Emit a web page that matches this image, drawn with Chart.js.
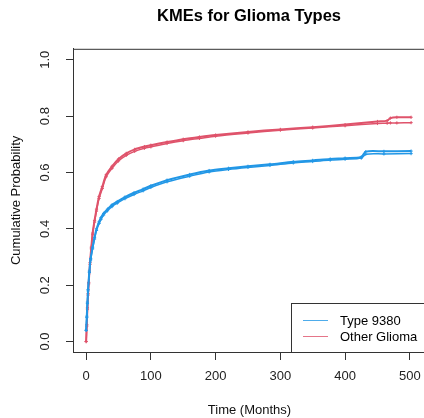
<!DOCTYPE html>
<html>
<head>
<meta charset="utf-8">
<script src="https://cdn.jsdelivr.net/npm/chart.js@4.4.1/dist/chart.umd.min.js"></script>
<style>
  html, body { margin: 0; padding: 0; background: #fff; overflow: hidden; }
  #wrap { width: 498px; height: 418px; }
</style>
</head>
<body>
<div id="wrap"><canvas id="kmChart" width="498" height="418"></canvas></div>
<script>
// tick labels
var xTicks = [0, 100, 200, 300, 400, 500];
var yTicks = [0, 0.2, 0.4, 0.6, 0.8, 1.0];

// series names
var seriesNames = ['Type 9380', 'Other Glioma'];

// Type 9380 (blue) - two estimates
var tBlue      = [0, 1, 2, 3, 5, 7, 10, 13, 16, 20, 23, 27, 33, 40, 48, 60, 74, 88, 100, 125, 160, 190, 220, 250, 284, 320, 350, 377, 400, 425, 432, 460, 502];
var blueMain   = [0.04, 0.09, 0.14, 0.185, 0.25, 0.295, 0.335, 0.37, 0.40, 0.425, 0.44, 0.455, 0.47, 0.485, 0.497, 0.513, 0.528, 0.541, 0.553, 0.573, 0.593, 0.607, 0.615, 0.622, 0.629, 0.638, 0.643, 0.648, 0.651, 0.655, 0.674, 0.675, 0.676];
var blueSecond = [0.04, 0.085, 0.135, 0.18, 0.245, 0.29, 0.329, 0.364, 0.394, 0.419, 0.434, 0.449, 0.464, 0.479, 0.491, 0.507, 0.522, 0.535, 0.547, 0.567, 0.587, 0.602, 0.611, 0.618, 0.625, 0.634, 0.639, 0.644, 0.647, 0.651, 0.665, 0.666, 0.667];

// Other Glioma (red) - two estimates
var tRed      = [0, 1, 2, 3, 4, 6, 8, 10, 13, 16, 20, 25, 31, 40, 50, 62, 75, 90, 100, 125, 150, 175, 200, 250, 300, 350, 400, 450, 465, 470, 480, 502];
var redMain   = [0, 0.06, 0.12, 0.17, 0.21, 0.28, 0.335, 0.385, 0.43, 0.47, 0.515, 0.55, 0.592, 0.622, 0.648, 0.668, 0.682, 0.692, 0.697, 0.708, 0.718, 0.726, 0.733, 0.744, 0.753, 0.761, 0.770, 0.781, 0.784, 0.793, 0.796, 0.796];
var redSecond = [0, 0.055, 0.115, 0.165, 0.205, 0.274, 0.329, 0.379, 0.424, 0.463, 0.508, 0.543, 0.585, 0.615, 0.641, 0.661, 0.675, 0.686, 0.691, 0.703, 0.713, 0.721, 0.729, 0.740, 0.750, 0.758, 0.766, 0.774, 0.775, 0.776, 0.776, 0.777];

var blueColor = '#2297E6';
var redColor  = '#DF536B';

function toPoints(t, v){
	var pts = [];
	for (var i = 0; i < t.length; i++) {
		pts.push({x: t[i], y: v[i]});
	}
	return pts;
}

function lineSet(label, t, v, color, width){
	return {
		label: label,
		data: toPoints(t, v),
		showLine: true,
		borderColor: color,
		backgroundColor: color,
		borderWidth: width,
		pointStyle: 'cross',
		pointRadius: 1.6,
		pointBorderWidth: 1,
		pointBorderColor: color,
		tension: 0.3
	};
}

// box around plot region
var boxPlugin = {
	id: 'plotBox',
	afterDraw: function(chart){
		var a = chart.chartArea, ctx = chart.ctx;
		ctx.save();
		ctx.strokeStyle = '#333';
		ctx.lineWidth = 1;
		ctx.strokeRect(a.left + 0.5, a.top + 0.5, a.right - a.left, a.bottom - a.top);
		ctx.restore();
	}
};

// legend in the bottom right corner, like R's legend('bottomright')
var rLegend = {
	id: 'rLegend',
	afterDraw: function(chart){
		var a = chart.chartArea, ctx = chart.ctx;
		var w = 135, h = 49;
		var x = a.right - w, y = a.bottom - h;
		ctx.save();
		ctx.fillStyle = '#fff';
		ctx.fillRect(x, y, w, h);
		ctx.strokeStyle = '#333';
		ctx.lineWidth = 1;
		ctx.strokeRect(x + 0.5, y + 0.5, w, h);
		ctx.font = '13px "Liberation Sans", Arial, sans-serif';
		ctx.textBaseline = 'middle';
		var items = [chart.data.datasets[0], chart.data.datasets[2]];
		for (var i = 0; i < items.length; i++) {
			var ly = y + 17.5 + i * 16;
			ctx.strokeStyle = items[i].borderColor;
			ctx.globalAlpha = 0.8;
			ctx.beginPath();
			ctx.moveTo(x + 12, ly);
			ctx.lineTo(x + 37, ly);
			ctx.stroke();
			ctx.globalAlpha = 1;
			ctx.fillStyle = '#000';
			ctx.fillText(items[i].label, x + 49, ly + 1);
		}
		ctx.restore();
	}
};

var ctx = document.getElementById('kmChart').getContext('2d');
new Chart(ctx, {
	type: 'scatter',
	data: {
		datasets: [
			lineSet(seriesNames[0], tBlue, blueMain, blueColor, 2),
			lineSet(seriesNames[0], tBlue, blueSecond, blueColor, 1.5),
			lineSet(seriesNames[1], tRed, redMain, redColor, 2),
			lineSet(seriesNames[1], tRed, redSecond, redColor, 1.5)
		]
	},
	options: {
		responsive: false,
		animation: false,
		layout: { padding: 0 },
		plugins: {
			legend: { display: false },
			tooltip: { enabled: false },
			title: {
				display: true,
				text: 'KMEs for Glioma Types',
				color: '#000',
				font: { family: '"Liberation Sans", Arial, sans-serif', size: 16.5, weight: 'bold' },
				padding: { top: 7, bottom: 22 }
			}
		},
		scales: {
			x: {
				type: 'linear',
				min: -20.3,
				max: 525,
				afterBuildTicks: function(scale){
					scale.ticks = xTicks.map(function(v){ return {value: v}; });
				},
				afterFit: function(scale){ scale.height = 66; },
				grid: { drawOnChartArea: false, drawTicks: true, tickLength: 8, color: '#333' },
				border: { display: true, color: '#333' },
				ticks: {
					color: '#222',
					padding: 9,
					maxRotation: 0,
					font: { family: '"Liberation Sans", Arial, sans-serif', size: 13 }
				},
				title: {
					display: true,
					text: 'Time (Months)',
					color: '#111',
					font: { family: '"Liberation Sans", Arial, sans-serif', size: 13 },
					padding: 0
				}
			},
			y: {
				type: 'linear',
				position: 'left',
				min: -0.037,
				max: 1.039,
				afterBuildTicks: function(scale){
					scale.ticks = yTicks.map(function(v){ return {value: v}; });
				},
				afterFit: function(scale){ scale.width = 73; },
				grid: { drawOnChartArea: false, drawTicks: true, tickLength: 7, color: '#333' },
				border: { display: true, color: '#333' },
				ticks: {
					color: '#222',
					padding: 12,
					minRotation: 90,
					maxRotation: 90,
					crossAlign: 'center',
					font: { family: '"Liberation Sans", Arial, sans-serif', size: 13 },
					callback: function(v){ return v.toFixed(1); }
				},
				title: {
					display: true,
					text: 'Cumulative Probability',
					color: '#111',
					font: { family: '"Liberation Sans", Arial, sans-serif', size: 13 },
					padding: { top: 9, bottom: 0 }
				}
			},
			yPad: {
				type: 'linear',
				position: 'right',
				display: true,
				afterFit: function(scale){ scale.width = 72; },
				grid: { display: false },
				border: { display: false },
				ticks: { display: false }
			}
		}
	},
	plugins: [boxPlugin, rLegend]
});
</script>
</body>
</html>
